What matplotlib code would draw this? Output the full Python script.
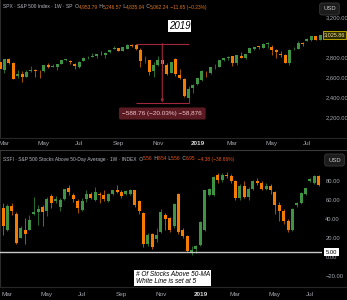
import matplotlib
matplotlib.use("Agg")
import matplotlib.pyplot as plt
import matplotlib.dates as mdates
import matplotlib.transforms as mtransforms
from matplotlib.lines import Line2D
import numpy as np
import pandas as pd

# ---------------- data ----------------
week_start = "2018-02-26"
n_weeks = 74

spx_open = [2757, 2681, 2790, 2745, 2619, 2633, 2611, 2670, 2675, 2668,
            2670, 2730, 2712, 2705, 2741, 2780, 2763, 2742, 2704, 2769,
            2797, 2811, 2819, 2840, 2828, 2853, 2885, 2897, 2871, 2891,
            2926, 2926, 2882, 2763, 2773, 2667, 2727, 2773, 2730, 2650,
            2790, 2630, 2591, 2401, 2498, 2535, 2582, 2671, 2644, 2706,
            2712, 2780, 2799, 2814, 2747, 2822, 2796, 2848, 2888, 2916,
            2898, 2941, 2908, 2881, 2841, 2830, 2751, 2886, 2889, 2951,
            2971, 2980, 3017, 2982]
spx_high = [2789, 2786, 2802, 2761, 2674, 2672, 2680, 2718, 2683, 2682,
            2732, 2743, 2742, 2736, 2779, 2791, 2774, 2746, 2763, 2804,
            2816, 2848, 2841, 2863, 2854, 2877, 2916, 2900, 2906, 2941,
            2939, 2940, 2894, 2816, 2779, 2756, 2816, 2775, 2747, 2760,
            2800, 2685, 2601, 2520, 2539, 2597, 2675, 2672, 2708, 2738,
            2775, 2795, 2814, 2816, 2830, 2861, 2836, 2894, 2910, 2917,
            2947, 2955, 2931, 2892, 2868, 2841, 2885, 2911, 2964, 2959,
            2995, 3014, 3018, 3028]
spx_low = [2647, 2647, 2741, 2585, 2594, 2553, 2610, 2660, 2612, 2594,
           2655, 2701, 2707, 2676, 2738, 2766, 2742, 2692, 2698, 2769,
           2790, 2808, 2795, 2828, 2802, 2847, 2884, 2864, 2866, 2886,
           2903, 2874, 2710, 2749, 2628, 2603, 2717, 2670, 2631, 2649,
           2621, 2583, 2409, 2352, 2443, 2524, 2569, 2612, 2634, 2687,
           2705, 2764, 2775, 2722, 2732, 2800, 2785, 2848, 2873, 2891,
           2896, 2900, 2825, 2801, 2805, 2750, 2728, 2874, 2888, 2913,
           2964, 2963, 2975, 2975]
spx_close = [2691, 2786, 2752, 2588, 2641, 2604, 2656, 2670, 2670, 2663,
             2728, 2712, 2721, 2735, 2779, 2780, 2754, 2718, 2760, 2801,
             2802, 2819, 2840, 2833, 2850, 2875, 2901, 2871, 2904, 2930,
             2914, 2886, 2767, 2768, 2658, 2723, 2781, 2736, 2633, 2760,
             2633, 2600, 2417, 2486, 2532, 2596, 2671, 2665, 2707, 2708,
             2775, 2793, 2804, 2743, 2823, 2800, 2834, 2893, 2907, 2905,
             2940, 2945, 2881, 2860, 2826, 2752, 2873, 2887, 2950, 2942,
             2990, 3014, 2977, 3026]

ssfi_open = [52, 28, 54, 45, 20, 28, 28, 45, 47, 53,
             48, 64, 59, 53, 61, 73, 65, 59, 49, 61,
             66, 60, 66, 65, 59, 66, 71, 68, 66, 66,
             70, 59, 46, 14, 24, 19, 26, 44, 41, 33,
             66, 28, 22, 5, 8, 13, 28, 65, 65, 86,
             81, 86, 85, 80, 62, 75, 63, 72, 80, 78,
             72, 75, 68, 55, 48, 38, 28, 55, 56.5, 66,
             80.3, 78, 85.3, 74.7]
ssfi_high = [57, 56, 57, 47, 33, 41, 44, 63, 55, 55,
             63, 66, 64, 62, 72, 76, 67, 61, 62, 71,
             68, 74, 68, 71, 67, 71, 76, 70, 70, 72,
             71, 60, 47, 25, 25, 30, 51, 46, 42, 57,
             67, 30, 23, 12, 13, 38, 70, 73, 85, 88,
             88, 89, 87, 81, 77, 80, 74, 81, 83, 80,
             78, 77, 69, 58, 50, 40, 52, 58, 68, 73,
             83, 86, 86, 79]
ssfi_low = [23, 27, 44, 14, 20, 14, 28, 44, 34, 33,
            43, 52, 57, 48, 60, 65, 58, 46, 48, 58,
            61, 59, 57, 59, 58, 65, 67, 62, 65, 65,
            53, 45, 10, 12, 8, 16, 25, 28, 26, 31,
            24, 20, 5, 2, 4, 12, 27, 64, 64, 78,
            79, 83, 78, 60, 60, 62, 60, 71, 76, 70,
            70, 66, 45, 38, 35, 26, 27, 53, 56, 65,
            79, 77, 75, 73]
ssfi_close = [33, 54, 48, 15, 30, 24, 39, 47, 50, 47,
              61, 57, 61, 60, 72, 68, 61, 52, 59, 66,
              62, 68, 65, 61, 66, 70, 68, 64, 69, 71,
              55, 48, 14, 23, 10, 23, 47, 40, 28, 56,
              26, 22, 6, 7, 12, 37, 70, 72, 84, 81,
              86, 85, 80, 62, 75, 63, 72, 80, 78, 72,
              75, 70, 55, 48, 38, 28, 51, 57, 67, 72.3,
              81.8, 85.3, 75.8, 77.6]

month_tick_dates = ["2018-03-05", "2018-05-07", "2018-07-02", "2018-09-03",
                    "2018-11-05", "2019-01-07", "2019-03-04", "2019-05-06",
                    "2019-07-01"]
month_tick_labels = ["Mar", "May", "Jul", "Sep", "Nov", "2019", "Mar", "May", "Jul"]

spx_ticks = [2200, 2400, 2600, 2800, 3200]
ssfi_ticks = [-20, 0, 20, 40, 60, 80]
white_line_level = 5
spx_last_label = "3,025.86"
measure_text = "\u2212588.76 (\u221220.03%) \u221258,876"
measure_from, measure_mid, measure_to = 29, 37, 43  # bar indices

# ---------------- style ----------------
W, H = 347, 300
BG = "#000000"
UP, DN = "#3f9443", "#f57c00"
UPW, DNW = "#2e7d32", "#c45f0a"
GRAY = "#a3a6ad"
FONT = "Liberation Sans"
PX_DAYS = 7 / 4.384

fig = plt.figure(figsize=(W / 100, H / 100), dpi=100, facecolor=BG)


def fx(px):
    return px / W


def fy(py):
    return 1 - py / H


ax1 = fig.add_axes([0, fy(138), 322 / W, 138 / H])
ax2 = fig.add_axes([0, fy(287), 322 / W, 137 / H])

weeks = pd.date_range(week_start, periods=n_weeks, freq="W-MON")
xd = mdates.date2num(weeks)


def candles(ax, x, o, h, l, c, minh):
    o, h, l, c = (np.asarray(a, dtype=float) for a in (o, h, l, c))
    up = c >= o
    lo = np.minimum(o, c)
    hh = np.maximum(np.abs(c - o), minh)
    ax.vlines(x, l, h, colors=np.where(up, UPW, DNW), lw=0.6, zorder=2)
    ax.bar(x, hh, bottom=lo, width=3 * PX_DAYS, color=np.where(up, UP, DN),
           linewidth=0, zorder=3)


candles(ax1, xd, spx_open, spx_high, spx_low, spx_close, 4)
candles(ax2, xd, ssfi_open, ssfi_high, ssfi_low, ssfi_close, 0.6)

left1 = xd[0] - 0.1 * PX_DAYS
left2 = xd[0] - 3.1 * PX_DAYS
ax1.set_xlim(left1, left1 + 322 * PX_DAYS)
ax2.set_xlim(left2, left2 + 322 * PX_DAYS)
ax1.set_ylim(1997, 3377)
ax2.set_ylim(-31.6, 112.6)

tick_x = mdates.date2num(pd.to_datetime(month_tick_dates))
for ax, pad in ((ax1, 2.3), (ax2, 3.3)):
    ax.set_facecolor(BG)
    for s in ("top", "right", "bottom"):
        ax.spines[s].set_visible(False)
    ax.spines["left"].set_color("#2c2c2c")
    ax.spines["left"].set_linewidth(0.8)
    ax.set_xticks(tick_x)
    ax.set_xticklabels(month_tick_labels, family=FONT)
    ax.tick_params(axis="x", length=0, pad=pad, labelsize=4.6, labelcolor=GRAY)
    ax.yaxis.tick_right()
    ax.tick_params(axis="y", length=0, pad=2.4, labelsize=4.2, labelcolor=GRAY)
    for lab in ax.get_xticklabels():
        if lab.get_text() == "2019":
            lab.set_color("#d8d8d8")
            lab.set_fontweight("bold")

ax1.set_yticks(spx_ticks)
ax1.set_yticklabels([f"{v:,.2f}" for v in spx_ticks], family=FONT)
ax2.set_yticks(ssfi_ticks)
ax2.set_yticklabels([f"{v:.2f}".replace("-", "\u2212") for v in ssfi_ticks], family=FONT)

# last price label
tr1 = mtransforms.blended_transform_factory(ax1.transAxes, ax1.transData)
ax1.text(1.006, spx_close[-1], spx_last_label, transform=tr1, ha="left", va="center",
         fontsize=4.0, family=FONT, color="#f3e48a", zorder=10, clip_on=False,
         bbox=dict(boxstyle="square,pad=0.2", fc="#2e2b08", ec="#b9a400", lw=0.7))

# white line at 5
ax2.axhline(white_line_level, color="#c9c9c9", lw=1.0, zorder=4)
tr2 = mtransforms.blended_transform_factory(ax2.transAxes, ax2.transData)
ax2.text(1.012, white_line_level, f"{white_line_level:.2f}", transform=tr2, ha="left",
         va="center", fontsize=4.2, family=FONT, color="#000000", zorder=10, clip_on=False,
         bbox=dict(boxstyle="square,pad=0.25", fc="#ffffff", ec="none"))

# measurement tool
MC = "#a0283a"
top_p = spx_high[measure_from]
bot_p = spx_low[measure_to]
ax1.hlines([top_p, bot_p], xd[measure_from + 2], xd[measure_to], colors=MC, lw=0.8, zorder=5)
ax1.annotate("", xy=(xd[measure_mid], bot_p), xytext=(xd[measure_mid], top_p),
             arrowprops=dict(arrowstyle="-|>", color=MC, lw=0.8, mutation_scale=4,
                             shrinkA=0, shrinkB=0), zorder=5)
ax1.text(xd[measure_mid], bot_p - 110, measure_text, ha="center", va="center",
         fontsize=4.6, family=FONT, color="#f0c4c8", zorder=6,
         bbox=dict(boxstyle="round,pad=0.55,rounding_size=0.25", fc="#5c1a22", ec="none"))

# separators
for py, col in ((138, "#262626"), (150, "#3a3a3a"), (287, "#262626")):
    fig.add_artist(Line2D([0, 1], [fy(py), fy(py)], color=col, lw=0.8))

# legends
renderer = fig.canvas.get_renderer()


def seq_text(x_px, y_px, parts, size):
    x = x_px
    for s, c in parts:
        t = fig.text(fx(x), fy(y_px), s, color=c, fontsize=size, family=FONT,
                     ha="left", va="center")
        x += t.get_window_extent(renderer).width


OR = "#e0761c"
LG = "#b8bbc2"
seq_text(3, 7, [("SPX \u00b7 S&P 500 Index \u00b7 1W \u00b7 SP  O", LG), ("4,953.79", OR),
                (" H", LG), ("5,246.57", OR), (" L", LG), ("4,835.04", OR),
                (" C", LG), ("5,062.24", OR), (" \u221211.65 (\u22120.23%)", OR)], 3.55)
seq_text(3, 159, [("SSFI \u00b7 S&P 500 Stocks Above 50-Day Average \u00b7 1W \u00b7 INDEX  O", LG),
                  ("5.56", "#e8551c"), (" H", LG), ("8.54", "#e8551c"), (" L", LG),
                  ("5.56", "#e8551c"), (" C", LG), ("6.95", "#e8551c"),
                  ("  \u22124.38 (\u221238.66%)", "#e8551c")], 3.5)

# USD buttons
for (cx, cy) in ((329.5, 9), (334.5, 160)):
    fig.text(fx(cx), fy(cy), "USD", ha="center", va="center", fontsize=4.2, family=FONT,
             color="#c8c8c8",
             bbox=dict(boxstyle="round,pad=0.6,rounding_size=0.4", fc="#1c1c1c",
                       ec="#3a3a3a", lw=0.6))

# annotation boxes
fig.text(fx(179.5), fy(26), "2019", ha="center", va="center", fontsize=7, family=FONT,
         style="italic", color="#000000",
         bbox=dict(boxstyle="square,pad=0.12", fc="#ffffff", ec="none"))
fig.text(fx(135.5), fy(278), "# Of Stocks Above 50-MA\nWhite Line is set at 5",
         ha="left", va="center", fontsize=4.7, family=FONT, style="italic",
         color="#000000", linespacing=1.0,
         bbox=dict(boxstyle="square,pad=0.2", fc="#ffffff", ec="none"))

fig.savefig("out.png", dpi=100, facecolor=BG)
